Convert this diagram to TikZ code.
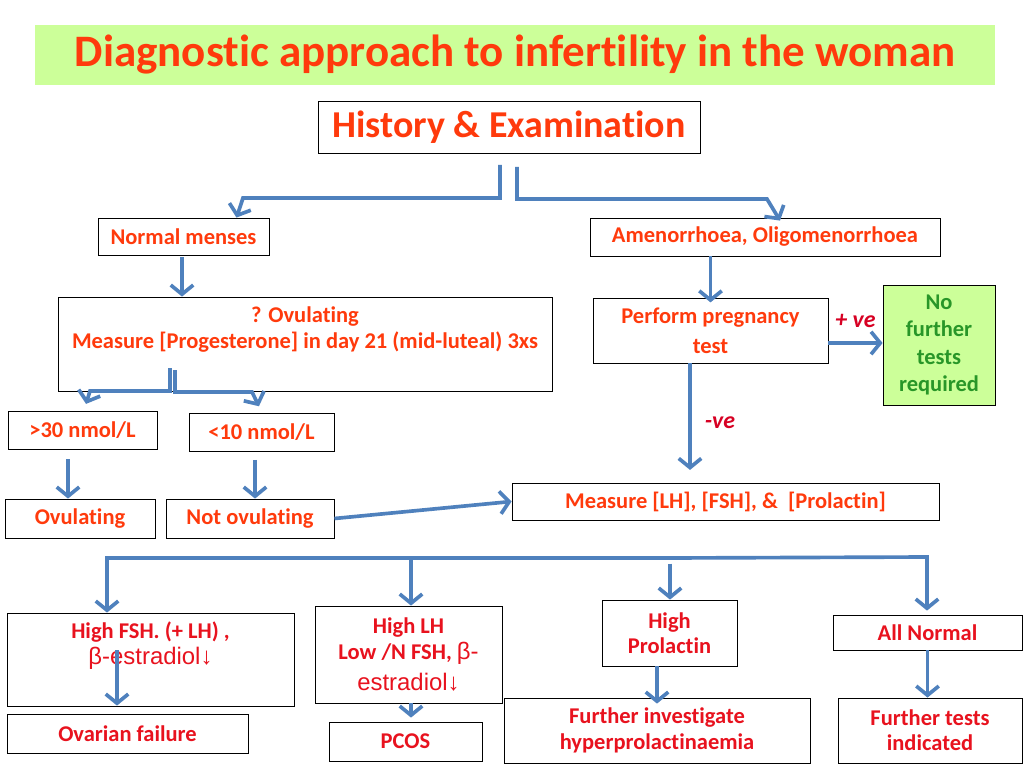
\documentclass[tikz,border=0pt]{standalone}
\usepackage{fontspec}
\setmainfont{Carlito}[Ligatures=CommonOff]
\newfontfamily\titlefont{Carlito}[Ligatures=CommonOff]
\newfontfamily\arialfont{Liberation Sans}
\usetikzlibrary{arrows.meta}
\definecolor{orng}{RGB}{255,58,12}
\definecolor{redtxt}{RGB}{232,18,30}
\definecolor{lblred}{RGB}{215,0,35}
\definecolor{flowblue}{RGB}{79,129,189}
\definecolor{lightgreen}{RGB}{204,255,153}
\definecolor{darkgreen}{RGB}{40,150,40}

\begin{document}
\begin{tikzpicture}[x=0.025cm, y=-0.025cm, font=\bfseries\fontsize{16}{18}\selectfont,
  box/.style={rectangle, draw=black, line width=0.6pt, fill=white, text=orng, align=center, inner sep=1pt},
  redbox/.style={box, text=redtxt},
  flow/.style={draw=flowblue, line width=2.6pt},
  arr/.style={flow, -{Straight Barb[length=6.5pt, width=16pt]}},
  edgelabel/.style={font=\bfseries\itshape\fontsize{17}{19}\selectfont, text=lblred}]

\fill[white] (0,0) rectangle (1024,768);
\useasboundingbox (0,0) rectangle (1024,768);

\node[fill=lightgreen, text=orng, minimum width=24cm, minimum height=1.5cm, font=\titlefont\bfseries\fontsize{32}{36}\selectfont] (title) at (515,55) {Diagnostic approach to infertility in the woman};

\node[box, minimum width=9.55cm, minimum height=1.3cm, font=\titlefont\bfseries\fontsize{27}{30}\selectfont] (hist) at (509,127) {History \& Examination};

\node[box, minimum width=4.275cm, minimum height=0.925cm] (normal) at (183.5,236.5) {Normal menses};
\node[box, minimum width=8.75cm, minimum height=0.95cm] (amen) at (765,237) {Amenorrhoea, Oligomenorrhoea};
\node[box, minimum width=12.35cm, minimum height=2.35cm] (ovq) at (305,344) {? Ovulating\\Measure [Progesterone] in day 21 (mid-luteal) 3xs\\\strut};
\node[box, minimum width=5.875cm, minimum height=1.625cm] (preg) at (710.5,330.5) {Perform pregnancy\\[3pt]test};
\node[box, fill=lightgreen, text=darkgreen, minimum width=2.8cm, minimum height=3cm, font=\bfseries\fontsize{16}{19.5}\selectfont] (nofurther) at (939,345) {No\\further\\tests\\required};

\node[box, minimum width=3.725cm, minimum height=0.95cm] (gt30) at (82.5,430) {>30 nmol/L};
\node[box, minimum width=3.625cm, minimum height=0.95cm] (lt10) at (261.5,432) {<10 nmol/L};
\node[box, minimum width=3.75cm, minimum height=0.975cm] (ovul) at (80,518.5) {Ovulating};
\node[box, minimum width=4.2cm, minimum height=0.975cm] (notov) at (250,518.5) {Not ovulating};
\node[box, minimum width=10.675cm, minimum height=0.925cm] (measure) at (725.5,501.5) {Measure [LH], [FSH], \&\ \ [Prolactin]};

\node[redbox, minimum width=7.175cm, minimum height=2.325cm] (highfsh) at (150.5,659.5) {High FSH. (+ LH) ,\\{\arialfont\mdseries\fontsize{17}{17}\selectfont β-estradiol↓}\\\strut};
\node[redbox, minimum width=6.025cm, minimum height=0.975cm] (ovfail) at (127.5,733.5) {Ovarian failure};
\node[redbox, minimum width=4.675cm, minimum height=2.425cm] (highlh) at (408.5,654.5) {High LH\\Low /N FSH, {\arialfont\mdseries\fontsize{17}{17}\selectfont β-}\\[4pt]{\arialfont\mdseries\fontsize{17}{17}\selectfont estradiol↓}};
\node[redbox, minimum width=3.825cm, minimum height=0.975cm] (pcos) at (405.5,741.5) {PCOS};
\node[redbox, minimum width=3.375cm, minimum height=1.65cm] (highprl) at (669.5,633) {High\\Prolactin};
\node[redbox, minimum width=7.65cm, minimum height=1.625cm] (furtherinv) at (657,730.5) {Further investigate\\hyperprolactinaemia};
\node[redbox, minimum width=4.725cm, minimum height=0.875cm] (allnorm) at (927.5,632.5) {All Normal};
\node[redbox, minimum width=4.6cm, minimum height=1.625cm] (furthertests) at (930,730.5) {Further tests\\indicated};

% split below History & Examination
\coordinate (hl) at (500,165);
\coordinate (hr) at (517,167);
\draw[arr] (hl) |- (243,198) -- ([shift={(53,0)}]normal.north);
\draw[arr] (hr) |- (767,199) -- ([shift={(15,3)}]amen.north);

\draw[arr] ([shift={(-1.5,2)}]normal.south) -- ([shift={(-1.5,0)}]normal.south |- ovq.north);
\draw[arr] (amen.south -| preg.north) -- ([yshift=-0.12cm]preg.north);

% split inside the progesterone box
\coordinate (ovl) at (170,368);
\coordinate (ovr) at (175,370);
\draw[arr, shorten >=5pt] (ovl) |- (90,391) -- ([shift={(1.5,0)}]gt30.north);
\draw[arr, shorten >=5pt] (ovr) |- (252,392) -- ([shift={(0.5,0)}]lt10.north);

\draw[arr, shorten <=7pt] ([shift={(-14.5,0)}]gt30.south) -- ([shift={(-14.5,0)}]gt30.south |- ovul.north);
\draw[arr, shorten <=6pt] ([shift={(-6.5,0)}]lt10.south) -- ([shift={(-6.5,0)}]lt10.south |- notov.north);
\draw[arr] (notov.east) -- (measure.west);

\draw[arr] (preg.east |- 0,343) -- node[edgelabel, above=6pt] {+ ve} (nofurther.west |- 0,343);
\draw[arr, shorten >=9pt] (preg.south -| 690,0) -- node[edgelabel, right=6pt] {-ve} (measure.north -| 690,0);

% lower branching bar
\coordinate (bl) at (107,558);
\coordinate (b2) at (411,558);
\coordinate (b3) at (670,558);
\coordinate (br) at (927,557);
\draw[arr] (b3) -- (bl) -- (highfsh.north -| bl);
\draw[arr] (b3) -- (br) -- ([yshift=0.1cm]allnorm.north -| br);
\draw[arr] (b2) -- (highlh.north -| b2);
\draw[arr, shorten <=4pt] (b3) -- (highprl.north -| b3);

\draw[arr] ([shift={(-33.5,-9.5)}]highfsh.center) -- ([yshift=0.2cm]ovfail.north -| 117,0);
\draw[arr] (highlh.south -| 411,0) -- ([yshift=0.1cm]pcos.north -| 411,0);
\draw[arr] (highprl.south -| 657,0) -- ([yshift=-0.15cm]furtherinv.north -| 657,0);
\draw[arr] (allnorm.south) -- (allnorm.south |- furthertests.north);
\end{tikzpicture}
\end{document}
